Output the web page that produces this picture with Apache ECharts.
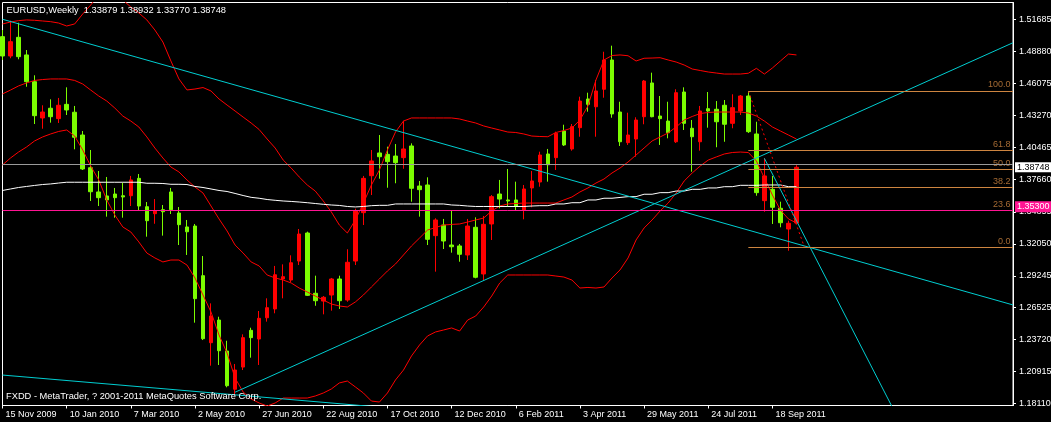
<!DOCTYPE html>
<html><head><meta charset="utf-8">
<script src="https://cdn.jsdelivr.net/npm/echarts@6/dist/echarts.min.js"></script>
<style>html,body{margin:0;padding:0;background:#000;}#c{width:1051px;height:422px;}</style>
</head><body><div id="c"></div>
<script>
// ---------- data ----------
const symbolName = 'EURUSD,Weekly';
const footerText = 'FXDD - MetaTrader, ? 2001-2011 MetaQuotes Software Corp.';
const startDate = Date.UTC(2009, 10, 15);
const slotCount = 127;
const xTickLabels = ['15 Nov 2009','10 Jan 2010','7 Mar 2010','2 May 2010','27 Jun 2010','22 Aug 2010','17 Oct 2010','12 Dec 2010','6 Feb 2011','3 Apr 2011','29 May 2011','24 Jul 2011','18 Sep 2011'];
const yTickValues = [1.18110,1.20915,1.23720,1.26525,1.29245,1.32050,1.34855,1.37660,1.40465,1.43270,1.46075,1.48880,1.51685];
const yMin = 1.17918, yMax = 1.53156;

const openP = [1.5017,1.4848,1.5011,1.4857,1.4623,1.4306,1.4391,1.4300,1.4425,1.4356,
1.4157,1.3871,1.3659,1.3624,1.3641,1.3626,1.3626,1.3778,1.3530,1.3469,
1.3504,1.3659,1.3475,1.3353,1.3361,1.2927,1.2341,1.2539,1.2268,1.1934,
1.2128,1.2449,1.2373,1.2559,1.2636,1.2898,1.2889,1.3055,1.3300,1.2773,
1.2705,1.2758,1.2898,1.2714,1.3055,1.3478,1.3801,1.4000,1.3988,1.3973,
1.3959,1.4061,1.3711,1.3720,1.3277,1.3370,1.3195,1.3187,1.3108,1.3350,
1.2942,1.3379,1.3641,1.3589,1.3589,1.3501,1.3694,1.3746,1.3991,1.3959,
1.4192,1.4035,1.4221,1.4472,1.4404,1.4557,1.4813,1.4358,1.4090,1.4122,
1.4317,1.4612,1.4323,1.4279,1.4098,1.4533,1.4216,1.4098,1.4387,1.4382,
1.4417,1.4259,1.4367,1.4498,1.4166,1.3583,1.3682,1.3516,1.3335,1.33879];
const closeP = [1.4848,1.4973,1.4842,1.4623,1.4326,1.4358,1.4317,1.4417,1.4376,1.4137,
1.3860,1.3661,1.3609,1.3589,1.3609,1.3615,1.3764,1.3536,1.3408,1.3493,
1.3486,1.3504,1.3373,1.3311,1.2726,1.2376,1.2574,1.2271,1.1965,1.2102,
1.2385,1.2385,1.2554,1.2647,1.2935,1.2918,1.3040,1.3291,1.2755,1.2708,
1.2738,1.2898,1.2708,1.3044,1.3495,1.3778,1.3930,1.3967,1.3924,1.3915,
1.4035,1.3691,1.3679,1.3245,1.3414,1.3230,1.3180,1.3114,1.3361,1.2913,
1.3376,1.3618,1.3597,1.3580,1.3534,1.3685,1.3755,1.3982,1.3897,1.4172,
1.4070,1.4230,1.4454,1.4425,1.4542,1.4813,1.4341,1.4098,1.4157,1.4288,
1.4629,1.4317,1.4300,1.4177,1.4527,1.4259,1.4142,1.4367,1.4367,1.4273,
1.4251,1.4396,1.4498,1.4186,1.3653,1.3799,1.3525,1.3390,1.3385,1.38748];
const lowP = [1.4813,1.4828,1.4819,1.4579,1.4253,1.4212,1.4265,1.4262,1.4332,1.4032,
1.3851,1.3580,1.3536,1.3443,1.3434,1.3434,1.3536,1.3501,1.3268,1.3381,
1.3277,1.3466,1.3195,1.3108,1.2516,1.2364,1.2140,1.2146,1.1951,1.1884,
1.2102,1.2210,1.2146,1.2525,1.2598,1.2729,1.2872,1.3020,1.2749,1.2664,
1.2589,1.2621,1.2636,1.2699,1.3020,1.3370,1.3632,1.3775,1.3696,1.3735,
1.3862,1.3574,1.3443,1.3195,1.2962,1.3160,1.3128,1.3049,1.3064,1.2904,
1.2889,1.3239,1.3516,1.3530,1.3493,1.3420,1.3525,1.3705,1.3749,1.3851,
1.4061,1.4020,1.4142,1.4361,1.4142,1.4483,1.4308,1.4061,1.4070,1.3967,
1.4251,1.4312,1.4070,1.4128,1.4087,1.4201,1.3836,1.4020,1.4221,1.4050,
1.4098,1.4216,1.4332,1.4175,1.3626,1.3486,1.3379,1.3350,1.3145,1.33770];
const highP = [1.5075,1.5157,1.5139,1.4900,1.4679,1.4417,1.4469,1.4481,1.4574,1.4411,
1.4192,1.4026,1.3842,1.3790,1.3694,1.3740,1.3799,1.3816,1.3571,1.3597,
1.3545,1.3694,1.3527,1.3414,1.3379,1.3099,1.2685,1.2568,1.2358,1.2155,
1.2414,1.2472,1.2618,1.2729,1.3012,1.3026,1.3105,1.3335,1.3312,1.2927,
1.2749,1.2907,1.2927,1.3158,1.3513,1.3799,1.4026,1.4157,1.4055,1.4078,
1.4282,1.4084,1.3755,1.3787,1.3429,1.3423,1.3501,1.3204,1.3423,1.3437,
1.3449,1.3632,1.3764,1.3860,1.3749,1.3720,1.3842,1.4011,1.4035,1.4186,
1.4247,1.4253,1.4492,1.4527,1.4638,1.4885,1.4938,1.4448,1.4352,1.4312,
1.4638,1.4702,1.4498,1.4448,1.4557,1.4574,1.4288,1.4411,1.4533,1.4454,
1.4463,1.4513,1.4507,1.4542,1.4273,1.3953,1.3799,1.3574,1.3408,1.38932];

const bbUpper = [1.5128,1.5145,1.5157,1.5163,1.5160,1.5154,1.5148,1.5136,1.5110,1.5128,
1.5215,1.5294,1.5381,1.5442,1.5425,1.5338,1.5276,1.5224,1.5163,1.5075,
1.4970,1.4804,1.4647,1.4551,1.4559,1.4572,1.4542,1.4472,1.4419,1.4367,
1.4314,1.4262,1.4205,1.4122,1.4043,1.3938,1.3868,1.3790,1.3720,1.3667,
1.3580,1.3484,1.3370,1.3300,1.3414,1.3562,1.3720,1.3851,1.4026,1.4183,
1.4279,1.4306,1.4306,1.4306,1.4306,1.4306,1.4306,1.4297,1.4279,1.4262,
1.4236,1.4218,1.4201,1.4183,1.4179,1.4166,1.4148,1.4144,1.4142,1.4179,
1.4196,1.4218,1.4288,1.4411,1.4638,1.4813,1.4852,1.4857,1.4850,1.4804,
1.4828,1.4830,1.4833,1.4813,1.4795,1.4769,1.4734,1.4721,1.4708,1.4699,
1.4690,1.4690,1.4690,1.4697,1.4740,1.4690,1.4743,1.4804,1.4865,1.4857];
const bbMiddle = [1.4516,1.4550,1.4586,1.4612,1.4634,1.4642,1.4647,1.4647,1.4647,1.4634,
1.4603,1.4550,1.4498,1.4454,1.4393,1.4323,1.4279,1.4227,1.4140,1.4043,
1.3956,1.3877,1.3834,1.3764,1.3702,1.3650,1.3536,1.3423,1.3318,1.3195,
1.3125,1.3047,1.3012,1.2933,1.2907,1.2889,1.2863,1.2819,1.2784,1.2749,
1.2714,1.2679,1.2662,1.2653,1.2697,1.2758,1.2828,1.2898,1.2968,1.3029,
1.3108,1.3187,1.3256,1.3326,1.3348,1.3370,1.3375,1.3379,1.3396,1.3414,
1.3431,1.3493,1.3536,1.3554,1.3558,1.3562,1.3562,1.3562,1.3562,1.3562,
1.3589,1.3615,1.3659,1.3694,1.3737,1.3772,1.3825,1.3868,1.3921,1.3982,
1.4043,1.4105,1.4140,1.4175,1.4227,1.4288,1.4319,1.4345,1.4354,1.4358,
1.4358,1.4358,1.4358,1.4349,1.4323,1.4279,1.4227,1.4192,1.4157,1.4122];
const bbLower = [1.3895,1.3956,1.4008,1.4052,1.4105,1.4140,1.4166,1.4188,1.4201,1.4148,
1.4026,1.3886,1.3764,1.3589,1.3458,1.3353,1.3309,1.3222,1.3125,1.3082,
1.3047,1.3064,1.3064,1.3020,1.2907,1.2758,1.2609,1.2408,1.2251,1.2032,
1.1910,1.1849,1.1814,1.1787,1.1814,1.1857,1.1857,1.1857,1.1857,1.1875,
1.1901,1.1936,1.1989,1.2006,1.1954,1.1901,1.1831,1.1822,1.1901,1.2015,
1.2102,1.2225,1.2321,1.2400,1.2435,1.2452,1.2470,1.2443,1.2539,1.2574,
1.2653,1.2749,1.2863,1.2933,1.2933,1.2933,1.2933,1.2933,1.2933,1.2924,
1.2915,1.2889,1.2819,1.2824,1.2819,1.2828,1.2907,1.2977,1.3082,1.3239,
1.3344,1.3414,1.3493,1.3562,1.3650,1.3755,1.3825,1.3886,1.3938,1.3965,
1.3991,1.4004,1.4008,1.4004,1.3930,1.3781,1.3632,1.3501,1.3423,1.3388];
const maWhite = [1.3672,1.3685,1.3698,1.3707,1.3716,1.3724,1.3729,1.3737,1.3744,1.3744,
1.3744,1.3744,1.3744,1.3744,1.3744,1.3744,1.3744,1.3744,1.3735,1.3735,
1.3733,1.3726,1.3726,1.3724,1.3707,1.3698,1.3685,1.3672,1.3663,1.3646,
1.3628,1.3612,1.3604,1.3593,1.3586,1.3580,1.3576,1.3571,1.3565,1.3558,
1.3551,1.3545,1.3541,1.3532,1.3528,1.3532,1.3539,1.3542,1.3542,1.3554,
1.3554,1.3554,1.3554,1.3554,1.3554,1.3554,1.3545,1.3542,1.3536,1.3532,
1.3532,1.3532,1.3532,1.3532,1.3532,1.3532,1.3536,1.3539,1.3539,1.3554,
1.3554,1.3565,1.3565,1.3589,1.3589,1.3604,1.3604,1.3611,1.3618,1.3618,
1.3639,1.3639,1.3653,1.3653,1.3667,1.3667,1.3682,1.3682,1.3694,1.3694,
1.3705,1.3705,1.3717,1.3717,1.3717,1.3720,1.3720,1.3720,1.3705,1.3705];

// trend lines: [startIndex, startPrice, endIndex, endPrice]
const trendDown = [0, 1.5169, 126, 1.2671];
const trendUp = [29, 1.1908, 126, 1.4964];
const trendSteep = [95, 1.3953, 112, 1.1634];
const trendBottom = [0, 1.2058, 50, 1.1760];

// Fibonacci retracement
const fibAnchor = [93, 1.4542, 100, 1.3175];
const fibNames = ['0.0','23.6','38.2','50.0','61.8','100.0'];
const fibPrices = [1.3175, 1.3498, 1.3697, 1.3859, 1.4020, 1.4542];

const bidPrice = 1.38748;
const levelPrice = 1.35300;

// ---------- chart ----------
const monthNames = ['Jan','Feb','Mar','Apr','May','Jun','Jul','Aug','Sep','Oct','Nov','Dec'];
const categories = Array.from({length: slotCount}, (_, i) => {
  const d = new Date(startDate + i * 7 * 86400000);
  return d.getUTCDate() + ' ' + monthNames[d.getUTCMonth()] + ' ' + d.getUTCFullYear();
});
const candles = openP.map((o, i) => [o, closeP[i], lowP[i], highP[i]]);
const last = candles.length - 1;
const headerText = symbolName + '  ' + [openP[last], highP[last], lowP[last], closeP[last]].map(v => v.toFixed(5)).join(' ');

const FONT = 'Liberation Sans, Arial, sans-serif';
const RED = '#ff0000', GREEN = '#7cfc00', CYAN = '#00ced1', FIB = '#cd8540', PINK = '#ff1493', GREY = '#9a9a9a';
const tickShown = (i) => i % 8 === 0 && i / 8 < xTickLabels.length;

function seg(arr, color, extra) {
  return Object.assign({
    type: 'line', symbol: 'none', silent: true, animation: false,
    data: [[arr[0], arr[1]], [arr[2], arr[3]]],
    lineStyle: { color: color, width: 1 }
  }, extra || {});
}
function band(data, color) {
  return { type: 'line', symbol: 'none', silent: true, data: data, lineStyle: { color: color, width: 1 } };
}

const fibMarks = fibPrices.map((p) => [
  { coord: [fibAnchor[0], p] },
  { coord: [slotCount - 1, p] }
]);

const chart = echarts.init(document.getElementById('c'), null, { renderer: 'canvas' });
chart.setOption({
  backgroundColor: '#000',
  animation: false,
  title: [
    { text: headerText, left: 6.5, top: 6, padding: 0, textStyle: { color: '#fff', fontSize: 9.3, fontWeight: 'normal', fontFamily: FONT } },
    { text: footerText, left: 6, top: 392, padding: 0, textStyle: { color: '#fff', fontSize: 9.3, fontWeight: 'normal', fontFamily: FONT } }
  ],
  grid: { left: 2.5, top: 2.5, right: 38, bottom: 16.5, outerBoundsMode: 'none', containLabel: false, show: true, borderColor: '#fff', borderWidth: 1, backgroundColor: '#000' },
  xAxis: {
    type: 'category', data: categories, boundaryGap: false,
    axisLine: { show: true, lineStyle: { color: '#fff', width: 1 } },
    axisTick: { show: true, length: 3, interval: tickShown, lineStyle: { color: '#fff' } },
    axisLabel: {
      interval: tickShown, color: '#fff', fontSize: 9, fontFamily: FONT, align: 'left', margin: 5, padding: [0, 0, 0, 3],
      formatter: (v) => { const i = categories.indexOf(v); return xTickLabels[i / 8] || ''; }
    },
    splitLine: { show: false }
  },
  yAxis: [
    {
      type: 'value', position: 'right', min: yMin, max: yMax,
      axisLine: { show: true, lineStyle: { color: '#fff', width: 1 } },
      axisTick: { show: true, length: 3, customValues: yTickValues, lineStyle: { color: '#fff' } },
      axisLabel: { customValues: yTickValues, formatter: v => v.toFixed(5), color: '#fff', fontSize: 9, fontFamily: FONT, margin: 6 },
      splitLine: { show: false }
    },
    {
      type: 'value', position: 'right', min: yMin, max: yMax, z: 5,
      axisLine: { show: false }, axisTick: { show: false }, splitLine: { show: false },
      axisLabel: {
        customValues: [bidPrice, levelPrice], margin: 2, fontSize: 9, fontFamily: FONT,
        formatter: v => Math.abs(v - bidPrice) < 1e-7 ? '{bid|' + bidPrice.toFixed(5) + '}' : '{lvl|' + levelPrice.toFixed(5) + '}',
        rich: {
          bid: { backgroundColor: '#fff', color: '#000', fontSize: 9, fontFamily: FONT, padding: [1, 4, 0, 2] },
          lvl: { backgroundColor: PINK, color: '#fff', fontSize: 9, fontFamily: FONT, padding: [1, 4, 1, 2] }
        }
      }
    }
  ],
  series: [
    {
      type: 'candlestick', data: candles, barWidth: 4, silent: true,
      itemStyle: { color: RED, color0: GREEN, borderColor: RED, borderColor0: GREEN, borderWidth: 1 }
    },
    band(bbUpper, RED), band(bbMiddle, RED), band(bbLower, RED), band(maWhite, '#ffffff'),
    seg(trendDown, CYAN), seg(trendUp, CYAN), seg(trendSteep, CYAN), seg(trendBottom, CYAN),
    seg(fibAnchor, RED, {
      lineStyle: { color: RED, width: 1, type: [2, 3] },
      markLine: {
        silent: true, symbol: 'none', animation: false,
        lineStyle: { color: FIB, width: 1, type: 'solid' },
        label: { show: false },
        data: fibMarks.concat([
          { yAxis: bidPrice, lineStyle: { color: GREY, width: 1, type: 'solid' } },
          { yAxis: levelPrice, lineStyle: { color: PINK, width: 1, type: 'solid' } }
        ])
      }
    }),
    {
      type: 'scatter', silent: true, clip: false, symbolSize: 1,
      itemStyle: { color: 'rgba(0,0,0,0)' },
      data: fibPrices.map((p, k) => ({ value: [slotCount - 1, p], name: fibNames[k] })),
      label: { show: true, position: 'left', distance: 2, offset: [0, -6], formatter: (p) => p.name, color: FIB, fontSize: 9, fontFamily: FONT }
    }
  ]
});
</script>
</body></html>
